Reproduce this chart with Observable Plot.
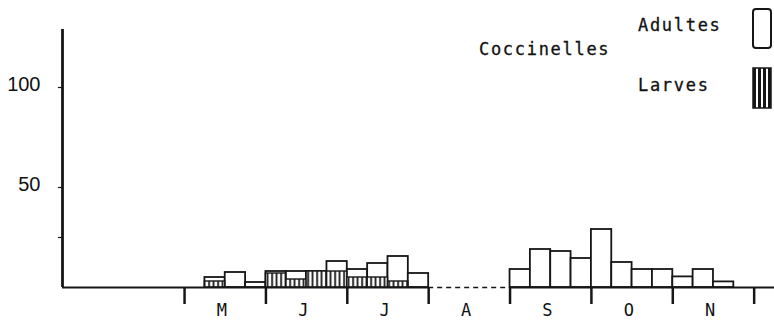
<!DOCTYPE html>
<html><head><meta charset="utf-8">
<script src="https://cdn.jsdelivr.net/npm/d3@7"></script>
<script src="https://cdn.jsdelivr.net/npm/@observablehq/plot@0.6"></script>
<style>
body{margin:0;background:#fff;}
#wrap{position:relative;width:774px;height:324px;overflow:hidden;}
.lg{position:absolute;font-family:"DejaVu Sans Mono",monospace;font-size:17px;letter-spacing:1.7px;color:#111;line-height:17px;white-space:nowrap;-webkit-text-stroke:0.3px #111;}
.sw{position:absolute;}
</style></head><body><div id="wrap"></div>
<script>
// Month labels (May .. November); month index 0 = start of May
const monthLabels = ["M","J","J","A","S","O","N"];
const monthTicks = [0,1,2,3,4,5,6,7];
// weekly bars: month index and week number within month
const weekMonth = [0,0,0,0, 1,1,1,1, 2,2,2,2, 4,4,4,4, 5,5,5,5, 6,6,6,6];
const weekNum   = [0,1,2,3, 0,1,2,3, 0,1,2,3, 0,1,2,3, 0,1,2,3, 0,1,2,3];
const adultes   = [0,5,7.5,2.5, 8,8,8,13, 9,12,15.5,7, 9,19,18,14.5, 29,12.5,9,9, 5.3,9,2.8,0];
const larves    = [0,3,0,0, 7,4,8,8, 5,5,3,0, 0,0,0,0, 0,0,0,0, 0,0,0,0];
const yTicks = [25,50,100];
const yLabelled = [50,100];
const baselineSolid = [[-1.5,3],[4,7.25]];
const baselineDashed = [[3,4]];
const xDomain = [-1.5, 7.25];
const yDomain = [0, 129];

const rows = weekMonth.map((m,i)=>({x1: m + weekNum[i]/4, x2: m + (weekNum[i]+1)/4, a: adultes[i], l: larves[i]}));

const ink = "#161616";
const plot = Plot.plot({
  width: 774, height: 324,
  marginLeft: 62, marginRight: 0, marginTop: 29, marginBottom: 37,
  x: {type: "linear", domain: xDomain, axis: null},
  y: {type: "linear", domain: yDomain, axis: null},
  marks: [
    Plot.rect(rows.filter(d=>d.a>0), {x1:"x1", x2:"x2", y1:0, y2:"a", fill:"white", stroke:ink, strokeWidth:1.8}),
    Plot.rect(rows.filter(d=>d.l>0), {x1:"x1", x2:"x2", y1:0, y2:"l", fill:"url(#hatch)", stroke:ink, strokeWidth:1.4}),
    Plot.ruleY(baselineSolid, {x1:d=>d[0], x2:d=>d[1], y:0, stroke:ink, strokeWidth:2}),
    Plot.ruleY(baselineDashed, {x1:d=>d[0], x2:d=>d[1], y:0, stroke:ink, strokeWidth:1.5, strokeDasharray:"5,4"}),
    Plot.ruleX(monthTicks, {x:d=>d, y1:0, y2:-8.5, stroke:ink, strokeWidth:2.5}),
    Plot.text(monthLabels, {x:(d,i)=>i+0.46, y:-11.5, text:d=>d, fontFamily:"DejaVu Sans Mono", fontSize:17, fill:"#111"}),
    Plot.ruleX([xDomain[0]], {x:d=>d, y1:0, y2:yDomain[1], stroke:ink, strokeWidth:2.8}),
    Plot.ruleY(yTicks, {y:d=>d, x1:xDomain[0]-0.05, x2:xDomain[0], stroke:ink, strokeWidth:1.2}),
    Plot.text(yLabelled, {y:d=>d, x:xDomain[0], text:d=>String(d), textAnchor:"end", dx:-22, dy:-3, fontFamily:"Liberation Sans", fontSize:20, fill:"#111"})
  ]
});
// hatch pattern for larvae
const svg = d3.select(plot);
const pat = svg.insert("defs", ":first-child").append("pattern")
  .attr("id","hatch").attr("patternUnits","userSpaceOnUse").attr("width",4.5).attr("height",10);
pat.append("rect").attr("width",4.5).attr("height",10).attr("fill","white");
pat.append("rect").attr("x",1.2).attr("width",1.8).attr("height",10).attr("fill",ink);
const wrap = document.getElementById("wrap");
wrap.appendChild(plot);

// legend overlay
const legend = [
  {text:"Coccinelles", left:479, top:41},
  {text:"Adultes", left:638, top:17},
  {text:"Larves", left:638, top:77}
];
for (const l of legend) {
  const d = document.createElement("div");
  d.className = "lg"; d.textContent = l.text;
  d.style.left = l.left + "px"; d.style.top = l.top + "px";
  wrap.appendChild(d);
}
const sw = document.createElementNS("http://www.w3.org/2000/svg","svg");
sw.setAttribute("class","sw"); sw.setAttribute("width","24"); sw.setAttribute("height","104");
sw.style.left = "750px"; sw.style.top = "6px";
sw.innerHTML = `<rect x="3" y="3" width="18" height="39" rx="3" fill="white" stroke="${ink}" stroke-width="2"/>
<rect x="3" y="62" width="18" height="40" fill="white" stroke="${ink}" stroke-width="1.5"/>
<rect x="3" y="62" width="3" height="40" fill="${ink}"/>
<rect x="8" y="62" width="3" height="40" fill="${ink}"/>
<rect x="13" y="62" width="3" height="40" fill="${ink}"/>
<rect x="18" y="62" width="3" height="40" fill="${ink}"/>`;
wrap.appendChild(sw);
</script></body></html>
